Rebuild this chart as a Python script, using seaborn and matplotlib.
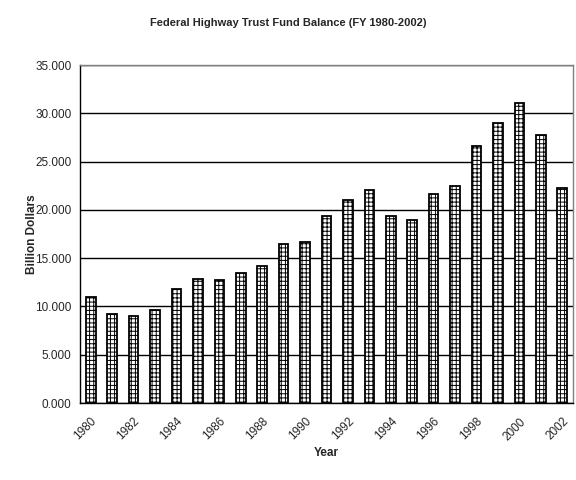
import matplotlib
matplotlib.use("Agg")
import matplotlib.pyplot as plt
import seaborn as sns
import numpy as np
import pandas as pd

# fiscal years and trust fund balance (billion dollars)
years = [str(y) for y in range(1980, 2003)]
balance = [10.97, 9.2, 9.0, 9.6, 11.8, 12.8, 12.7, 13.5, 14.15, 16.5, 16.7, 19.4,
           21.05, 22.1, 19.4, 18.9, 21.6, 22.5, 26.6, 29.0, 31.1, 27.7, 22.3]
yticks = [0, 5, 10, 15, 20, 25, 30, 35]

df = pd.DataFrame({'Year': years, 'Balance': balance})

sns.set_style('white')
plt.rcParams['font.family'] = ['Liberation Sans', 'DejaVu Sans']
plt.rcParams['hatch.linewidth'] = 0.7

fig = plt.figure(figsize=(5.76, 4.8), dpi=100)
ax = fig.add_axes([80 / 576, 1 - 403 / 480, 493 / 576, 338 / 480])

sns.barplot(data=df, x='Year', y='Balance', color='white', edgecolor='black',
            linewidth=1.3, hatch='++++', width=0.45, saturation=1, ax=ax)

ax.set_xlim(-0.5, len(years) - 0.5)
ax.set_ylim(0, 35)
ax.set_yticks(yticks)
ax.set_yticklabels([f'{v:.3f}' for v in yticks], fontsize=8.5)
ax.yaxis.grid(True, color='black', linewidth=1)
ax.set_axisbelow(True)

# year labels every other bar, tick marks on category boundaries
ax.set_xticks(range(0, len(years), 2))
ax.set_xticklabels(years[::2], rotation=45, ha='right', rotation_mode='anchor', fontsize=8.5)
ax.set_xticks(np.arange(-0.5, len(years)), minor=True)
ax.tick_params(axis='x', which='major', length=0, pad=9)
ax.tick_params(axis='x', which='minor', length=4, width=1, color='black', direction='out')
ax.tick_params(axis='y', length=4, width=1, color='black', direction='out', pad=2)

for s in ['left', 'bottom']:
    ax.spines[s].set_color('black')
    ax.spines[s].set_linewidth(1)
for s in ['top', 'right']:
    ax.spines[s].set_color('#808080')
    ax.spines[s].set_linewidth(1)

ax.set_xlabel('Year', fontsize=8.5, fontweight='bold', labelpad=3)
ax.set_ylabel('Billion Dollars', fontsize=8.5, fontweight='bold', labelpad=-2)
fig.suptitle('Federal Highway Trust Fund Balance (FY 1980-2002)', fontsize=8,
             fontweight='bold', y=1 - 23 / 480, va='center')

fig.savefig('out.png', dpi=100)
